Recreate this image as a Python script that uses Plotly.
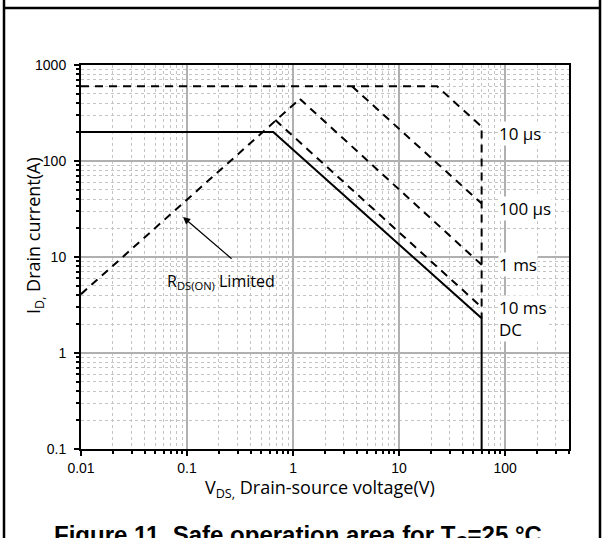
import plotly.graph_objects as go
import numpy as np

# ---- data ----
dc_v = [0.01, 0.65, 60, 60]
dc_i = [200, 200, 2.3, 0.1]

limit_v = [0.01, 22.8, 60, 60]          # 600 A limit + 10 us + vertical voltage limit
limit_i = [600, 600, 228, 2.3]

us100_v = [3.6, 60]
us100_i = [600, 36]

ms1_v = [1.16, 60]
ms1_i = [443, 8.3]

ms10_v = [0.68, 60]
ms10_i = [267, 3.0]

rds_v = [0.01, 1.16]
rds_i = [4.1, 443]

x_tickvals = [0.01, 0.1, 1, 10, 100]
x_ticktext = ["0.01", "0.1", "1", "10", "100"]
y_tickvals = [0.1, 1, 10, 100, 1000]
y_ticktext = ["0.1", "1", "10", "100", "1000"]

curve_labels = ["10 µs", "100 µs", "1 ms", "10 ms<br>DC"]
curve_label_v = [86, 86, 86, 86]
curve_label_i = [195, 32, 8.3, 2.3]

# ---- figure ----
fig = go.Figure()
dash_style = dict(color="black", width=2, dash="8px,6px")
for xs, ys in [(limit_v, limit_i), (us100_v, us100_i), (ms1_v, ms1_i),
               (ms10_v, ms10_i), (rds_v, rds_i)]:
    fig.add_trace(go.Scatter(x=xs, y=ys, mode="lines", line=dash_style,
                             showlegend=False, hoverinfo="skip"))
fig.add_trace(go.Scatter(x=dc_v, y=dc_i, mode="lines",
                         line=dict(color="black", width=2),
                         showlegend=False, hoverinfo="skip"))

tick_font = dict(family="Liberation Sans, Arial", size=14, color="black")
minor_cfg = dict(dtick="D1", ticks="outside", ticklen=3, tickcolor="black",
                 showgrid=True, gridcolor="#c4c4c4", griddash="dot", gridwidth=1)

fig.update_xaxes(type="log", range=[-2, np.log10(400)],
                 tickvals=x_tickvals, ticktext=x_ticktext,
                 ticks="outside", ticklen=5, tickcolor="black", tickwidth=1.5,
                 showline=True, linecolor="black", linewidth=2, mirror=True,
                 showgrid=True, gridcolor="#b0b0b0", gridwidth=1.5,
                 tickfont=tick_font, minor=minor_cfg, zeroline=False)
fig.update_yaxes(type="log", range=[-1, 3],
                 tickvals=y_tickvals, ticktext=y_ticktext,
                 ticks="outside", ticklen=5, tickcolor="black", tickwidth=1.5,
                 ticklabelstandoff=5,
                 showline=True, linecolor="black", linewidth=2, mirror=True,
                 showgrid=True, gridcolor="#b0b0b0", gridwidth=1.5,
                 tickfont=tick_font, minor=minor_cfg, zeroline=False)

# page geometry helpers (plot area: x 81..569, y 65..449 in page pixels)
W, H = 488.0, 384.0
def px(x):
    return (x - 81) / W
def py(y):
    return (449 - y) / H

title_font = dict(family="Open Sans", size=18, color="black")
fig.add_annotation(xref="paper", yref="paper", x=px(320), y=py(488),
                   text="V<sub>DS,</sub> Drain-source voltage(V)", showarrow=False,
                   xanchor="center", yanchor="middle", font=title_font)
fig.add_annotation(xref="paper", yref="paper", x=px(34), y=py(236),
                   text="I<sub>D,</sub> Drain current(A)", showarrow=False,
                   textangle=-90, xanchor="center", yanchor="middle", font=title_font)

ann_font = dict(family="Open Sans", size=17, color="black")
for txt, xv, yv in zip(curve_labels, curve_label_v, curve_label_i):
    fig.add_annotation(x=np.log10(xv), y=np.log10(yv), text=txt, showarrow=False,
                       xanchor="left", yanchor="middle", align="left", font=ann_font,
                       bgcolor="white", borderpad=0)

fig.add_annotation(x=-0.679, y=0.740,
                   text="R<sub>DS(ON)</sub> Limited", showarrow=False,
                   xanchor="center", yanchor="middle",
                   font=dict(family="Open Sans", size=16, color="black"))
fig.add_annotation(x=-1.038, y=1.417, ax=-0.566, ay=0.969, axref="x", ayref="y",
                   text="", showarrow=True, arrowhead=2, arrowsize=1.2,
                   arrowwidth=1.2, arrowcolor="black")

# caption
fig.add_annotation(xref="paper", yref="paper", x=px(298), y=py(536),
                   text="<b>Figure 11. Safe operation area for T<sub>C</sub>=25 °C</b>",
                   showarrow=False, xanchor="center", yanchor="middle",
                   font=dict(family="Liberation Sans, Arial", size=24, color="black"))

# page frame
frame = dict(color="black", width=2.5)
fig.add_shape(type="line", xref="paper", yref="paper", x0=px(4), x1=px(601), y0=py(8), y1=py(8), line=frame)
fig.add_shape(type="line", xref="paper", yref="paper", x0=px(4), x1=px(4), y0=py(0), y1=py(540), line=frame)
fig.add_shape(type="line", xref="paper", yref="paper", x0=px(600), x1=px(600), y0=py(0), y1=py(540), line=frame)

fig.update_layout(width=604, height=538, margin=dict(l=81, r=35, t=65, b=89),
                  plot_bgcolor="white", paper_bgcolor="white")

fig.write_html("out.html", config={"displayModeBar": False},
               post_script="document.body.style.margin='0';document.body.style.overflow='hidden';")
